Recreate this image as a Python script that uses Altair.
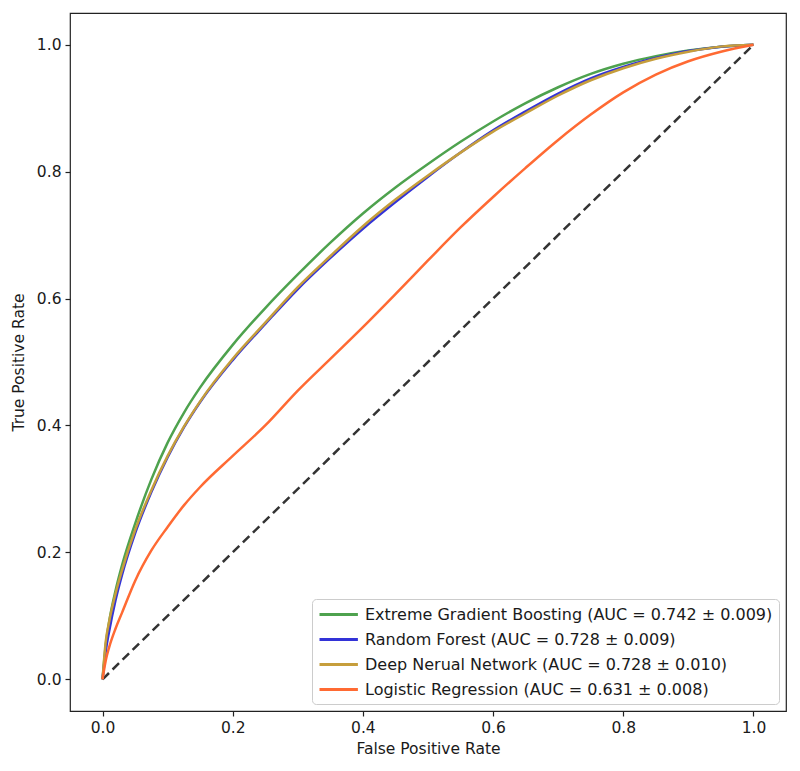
import altair as alt
import pandas as pd

fpr = [0, 0.005, 0.01, 0.02, 0.03, 0.05, 0.075, 0.1, 0.125, 0.15, 0.2, 0.25, 0.3, 0.35,
       0.4, 0.45, 0.5, 0.55, 0.6, 0.65, 0.7, 0.75, 0.8, 0.85, 0.9, 0.95, 1.0]
tpr_xgb = [0, 0.055, 0.09, 0.14, 0.18, 0.245, 0.315, 0.373, 0.42, 0.46, 0.527, 0.585, 0.638, 0.688,
           0.734, 0.775, 0.812, 0.847, 0.879, 0.908, 0.933, 0.954, 0.97, 0.982, 0.991, 0.997, 1.0]
tpr_rf = [0, 0.045, 0.075, 0.125, 0.165, 0.23, 0.295, 0.35, 0.397, 0.437, 0.503, 0.56, 0.615, 0.664,
          0.71, 0.752, 0.792, 0.83, 0.865, 0.895, 0.923, 0.947, 0.965, 0.979, 0.99, 0.997, 1.0]
tpr_dnn = [0, 0.06, 0.09, 0.135, 0.172, 0.235, 0.298, 0.352, 0.398, 0.438, 0.505, 0.562, 0.618, 0.667,
           0.714, 0.756, 0.794, 0.83, 0.863, 0.892, 0.92, 0.944, 0.963, 0.978, 0.989, 0.997, 1.0]
tpr_lr = [0, 0.03, 0.05, 0.08, 0.105, 0.155, 0.203, 0.24, 0.274, 0.303, 0.352, 0.4, 0.455, 0.505,
          0.555, 0.607, 0.66, 0.712, 0.76, 0.806, 0.85, 0.89, 0.925, 0.953, 0.974, 0.989, 1.0]

models = [
    "Extreme Gradient Boosting (AUC = 0.742 ± 0.009)",
    "Random Forest (AUC = 0.728 ± 0.009)",
    "Deep Nerual Network (AUC = 0.728 ± 0.010)",
    "Logistic Regression (AUC = 0.631 ± 0.008)",
]
colors = ["#4ea24e", "#3333d7", "#c69e3c", "#ff6a33"]
diag_x = [0, 1]
diag_y = [0, 1]

rows = []
for name, tpr in zip(models, [tpr_xgb, tpr_rf, tpr_dnn, tpr_lr]):
    for i, (a, b) in enumerate(zip(fpr, tpr)):
        rows.append({"model": name, "fpr": a, "tpr": b, "i": i})
df = pd.DataFrame(rows)
diag = pd.DataFrame({"fpr": diag_x, "tpr": diag_y})

FONT = "DejaVu Sans"
xscale = alt.Scale(domain=[-0.05, 1.05], nice=False, zero=False)
yscale = alt.Scale(domain=[-0.05, 1.05], nice=False, zero=False)

diag_line = alt.Chart(diag).mark_line(
    color="#333333", strokeDash=[9, 5], strokeWidth=2.5
).encode(
    x=alt.X("fpr:Q", scale=xscale),
    y=alt.Y("tpr:Q", scale=yscale),
)

lines = alt.Chart(df).mark_line(strokeWidth=2.5, interpolate="monotone").encode(
    x=alt.X("fpr:Q", scale=xscale, title="False Positive Rate",
            axis=alt.Axis(values=[0, 0.2, 0.4, 0.6, 0.8, 1.0], format=".1f")),
    y=alt.Y("tpr:Q", scale=yscale, title="True Positive Rate",
            axis=alt.Axis(values=[0, 0.2, 0.4, 0.6, 0.8, 1.0], format=".1f")),
    color=alt.Color("model:N", scale=alt.Scale(domain=models, range=colors),
                    legend=alt.Legend(
                        title=None, orient="none", legendX=242, legendY=586,
                        symbolType="M-1,0L3.8,0", symbolSize=256, symbolStrokeWidth=3,
                        labelFont=FONT, labelFontSize=16, labelColor="#1a1a1a",
                        labelOffset=28, rowPadding=7.0, padding=6,
                        strokeColor="#cccccc", fillColor="white", cornerRadius=4,
                        labelLimit=600)),
    order="i:Q",
)

chart = alt.layer(diag_line, lines).properties(
    width=716, height=698,
    autosize=alt.AutoSizeParams(type="none"),
    padding={"left": 62, "top": 5, "right": 6, "bottom": 56},
).configure_view(
    stroke="#222222", strokeWidth=1.2
).configure_axis(
    grid=False, domain=False, tickColor="#222222", tickSize=5, tickWidth=1.2,
    labelFont=FONT, labelFontSize=15.5, labelColor="#1a1a1a", labelPadding=4,
    titleFont=FONT, titleFontSize=15.5, titleFontWeight="normal", titleColor="#1a1a1a",
).configure_axisX(titlePadding=6).configure_axisY(titlePadding=10)

chart.save("out.html", embed_options={"renderer": "svg", "actions": False})
